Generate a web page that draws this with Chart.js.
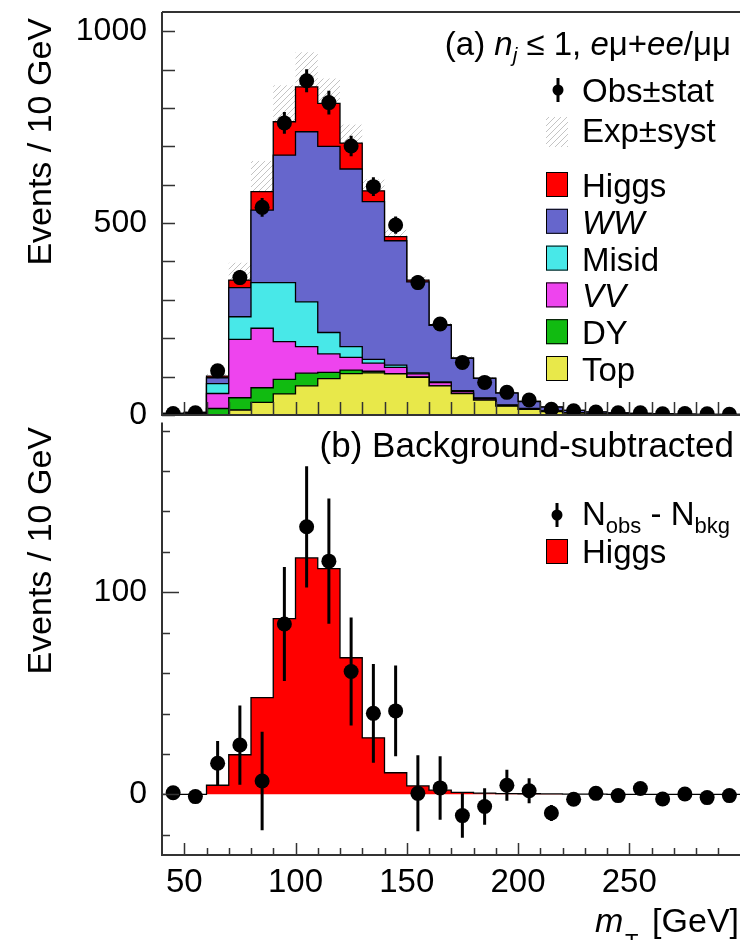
<!DOCTYPE html>
<html>
<head>
<meta charset="utf-8">
<script src="https://cdn.jsdelivr.net/npm/chart.js@4.4.1/dist/chart.umd.min.js"></script>
<style>
  html, body { margin: 0; padding: 0; overflow: hidden; background: #fff; width: 740px; height: 940px; }
  canvas { position: absolute; left: 0; }
  #topChart { top: 0; }
  #bottomChart { top: 415px; }
</style>
</head>
<body>
<canvas id="topChart" width="748" height="440"></canvas>
<canvas id="bottomChart" width="748" height="525"></canvas>
<script>
const FONT = "'Liberation Sans', Arial, Helvetica, sans-serif";

// bin centres, 10 GeV bins from 40 to 300
const binCenters = [45, 55, 65, 75, 85, 95, 105, 115, 125, 135, 145, 155, 165, 175, 185, 195, 205, 215, 225, 235, 245, 255, 265, 275, 285, 295];

// (a) stacked expectation
const topBkg   = [0, 0, 0, 13, 33, 55, 76, 95, 108, 110, 107, 98, 76, 56, 39, 23, 15, 9, 5, 3, 2, 1.5, 1, 0.8, 0.5, 0.4];
const dyBkg    = [1, 2, 17, 32, 38, 38, 33, 16, 9, 4, 1, 1, 0.5, 0.5, 0.3, 0.2, 0.2, 0.1, 0.1, 0, 0, 0, 0, 0, 0, 0];
const vvBkg    = [1, 1, 39, 152, 155, 98, 69, 48, 33, 21, 16, 8, 8, 5, 4, 2, 1.5, 1, 0.8, 0.5, 0.4, 0.3, 0.2, 0.2, 0.1, 0.1];
const misidBkg = [1, 2, 26, 59, 119, 154, 117, 56, 28, 10, 6, 3, 2, 2, 1, 1, 0.5, 0.5, 0.3, 0.2, 0.2, 0.1, 0.1, 0.1, 0.1, 0.1];
const wwBkg    = [1, 2, 15, 76, 189, 332, 443, 485, 463, 411, 324, 237, 147, 84, 51, 31, 18, 10, 6, 4, 3, 2, 2, 1, 1, 1];
const higgsSig = [0, 0, 4.5, 19.6, 47.9, 87, 117, 111.7, 67.6, 28, 10.7, 4.2, 2.1, 1, 0.6, 0.4, 0.3, 0.2, 0.1, 0.1, 0, 0, 0, 0, 0, 0];
const systErr  = [0, 0, 5, 45, 80, 95, 90, 65, 48, 30, 18, 10, 8, 5, 3, 2, 1, 1, 0, 0, 0, 0, 0, 0, 0, 0];
const obsTop   = [4, 6, 115, 358, 541, 761, 871, 814, 701, 595, 495, 345, 237, 137, 85, 59, 39, 15, 11, 8, 6, 6, 3, 4, 3, 2];
const statErr  = [2, 2.5, 11, 19.6, 24.4, 28.2, 30, 31, 26.7, 24.4, 22.5, 18.8, 15.7, 11, 9, 7.7, 6.2, 4, 3.3, 2.8, 2.4, 2.4, 1.7, 2, 1.7, 1.4];

// (b) background subtracted
const obsSub   = [0.8, -1.1, 15.4, 24.4, 6.6, 84.3, 132.4, 115.4, 60.8, 40.1, 41.3, 0.5, 3.2, -10.5, -6, 4.5, 1.8, -9.2, -2.4, 0.5, -0.6, 2.9, -2.3, 0.2, -1.6, -0.6];
const subErr   = [2, 2.5, 11, 19.6, 24.4, 28.2, 30, 31, 26.7, 24.4, 22.5, 18.8, 15.7, 11, 9, 7.7, 6.2, 4, 3.3, 2.8, 2.4, 2.4, 1.7, 2, 1.7, 1.4];

const xTickValues = [50, 100, 150, 200, 250];
const yTicksTop = [0, 500, 1000];
const yTicksBottom = [0, 100];

const stackColors = ['#e8e84a', '#11bb11', '#ee44ee', '#48e8e8', '#6666cc', '#ff0000'];
const legendNames = ['Higgs', 'WW', 'Misid', 'VV', 'DY', 'Top'];
const legendItalic = [false, true, false, true, false, false];

function stepPoints(vals) {
  const pts = vals.map((v, i) => ({ x: binCenters[i] - 5, y: v }));
  pts.push({ x: binCenters[vals.length - 1] + 5, y: vals[vals.length - 1] });
  return pts;
}

const layers = [topBkg, dyBkg, vvBkg, misidBkg, wwBkg, higgsSig];
const cumulative = [];
layers.forEach((layer, k) => {
  cumulative.push(layer.map((v, i) => v + (k ? cumulative[k - 1][i] : 0)));
});
const expTotal = cumulative[cumulative.length - 1];

function hatchPattern(ctx) {
  const c = document.createElement('canvas');
  c.width = 6; c.height = 6;
  const g = c.getContext('2d');
  g.strokeStyle = '#c4c4c4';
  g.lineWidth = 1;
  g.beginPath();
  g.moveTo(0, 6); g.lineTo(6, 0);
  g.moveTo(-1, 1); g.lineTo(1, -1);
  g.moveTo(5, 7); g.lineTo(7, 5);
  g.stroke();
  return ctx.createPattern(c, 'repeat');
}

function clipArea(ctx, a) {
  ctx.beginPath();
  ctx.rect(a.left, a.top, a.right - a.left, a.bottom - a.top);
  ctx.clip();
}

// pieces: [text, font, dy]
function richText(ctx, pieces, x, y, align) {
  let w = 0;
  pieces.forEach(p => { ctx.font = p[1]; w += ctx.measureText(p[0]).width; });
  let cx = align === 'right' ? x - w : x;
  ctx.textAlign = 'left';
  ctx.textBaseline = 'alphabetic';
  pieces.forEach(p => {
    ctx.font = p[1];
    ctx.fillText(p[0], cx, y + (p[2] || 0));
    cx += ctx.measureText(p[0]).width;
  });
}

function yTitle(ctx, x, y) {
  ctx.save();
  ctx.translate(x, y);
  ctx.rotate(-Math.PI / 2);
  ctx.font = '34px ' + FONT;
  ctx.textAlign = 'right';
  ctx.textBaseline = 'alphabetic';
  ctx.fillStyle = '#000';
  ctx.fillText('Events / 10 GeV', 0, 0);
  ctx.restore();
}

function obsMarker(ctx, x, y) {
  ctx.fillStyle = '#000';
  ctx.fillRect(x - 1.5, y - 12, 3, 24);
  ctx.beginPath();
  ctx.arc(x, y, 5.5, 0, Math.PI * 2);
  ctx.fill();
}

function noPadding(s) {
  s.paddingTop = 0; s.paddingBottom = 0;
  s.paddingLeft = 0; s.paddingRight = 0;
}

const hatchBand = {
  id: 'hatchBand',
  beforeDatasetsDraw(chart) {
    const { ctx, chartArea, scales: { x, y } } = chart;
    ctx.save();
    clipArea(ctx, chartArea);
    ctx.fillStyle = hatchPattern(ctx);
    binCenters.forEach((c, i) => {
      if (!systErr[i]) return;
      const x0 = x.getPixelForValue(c - 5), x1 = x.getPixelForValue(c + 5);
      const yt = y.getPixelForValue(expTotal[i] + systErr[i]);
      const yb = y.getPixelForValue(expTotal[i] - systErr[i]);
      ctx.fillRect(x0, yt, x1 - x0, yb - yt);
    });
    ctx.restore();
  }
};

const errorBars = {
  id: 'errorBars',
  afterDatasetsDraw(chart) {
    const { ctx, chartArea, scales: { x, y } } = chart;
    ctx.save();
    clipArea(ctx, chartArea);
    ctx.strokeStyle = '#000';
    ctx.lineWidth = 3;
    chart.data.datasets.forEach(ds => {
      if (!ds.errors) return;
      ds.data.forEach((p, i) => {
        const px = x.getPixelForValue(p.x);
        ctx.beginPath();
        ctx.moveTo(px, y.getPixelForValue(p.y - ds.errors[i]));
        ctx.lineTo(px, y.getPixelForValue(p.y + ds.errors[i]));
        ctx.stroke();
      });
    });
    ctx.restore();
  }
};

const frame = {
  id: 'frame',
  afterDraw(chart, args, o) {
    const { ctx, chartArea: a, scales: { x, y } } = chart;
    ctx.save();
    ctx.strokeStyle = '#333';
    ctx.lineWidth = 1.5;
    ctx.beginPath();
    for (let v = 50; v < 300; v += 10) {
      const px = Math.round(x.getPixelForValue(v)) + 0.5;
      const len = v % 50 === 0 ? o.xMajorLen : o.xMinorLen;
      ctx.moveTo(px, a.bottom);
      ctx.lineTo(px, a.bottom - len);
    }
    for (let v = o.yFrom; v <= o.yTo; v += o.yStep) {
      const py = Math.round(y.getPixelForValue(v)) + 0.5;
      const len = v % o.yMajor === 0 ? o.yMajorLen : o.yMinorLen;
      ctx.moveTo(a.left, py);
      ctx.lineTo(a.left + len, py);
    }
    ctx.stroke();
    ctx.lineWidth = 2;
    ctx.beginPath();
    ctx.moveTo(a.left, a.top);
    ctx.lineTo(a.left, a.bottom);
    ctx.lineTo(a.right, a.bottom);
    if (o.topLine) {
      ctx.moveTo(a.left, a.top);
      ctx.lineTo(a.right, a.top);
    }
    ctx.stroke();
    ctx.restore();
  }
};

const topLabels = {
  id: 'topLabels',
  afterDraw(chart) {
    const ctx = chart.ctx;
    ctx.save();
    ctx.fillStyle = '#000';
    yTitle(ctx, 51, 18);
    const n = '33px ' + FONT, it = 'italic 33px ' + FONT;
    richText(ctx, [
      ['(a) ', n], ['n', it], ['j', 'italic 21px ' + FONT, 7], [' \u2264 1, ', n],
      ['e', it], ['\u03bc', n], ['+', n], ['ee', it], ['/', n], ['\u03bc\u03bc', n]
    ], 731, 55, 'right');

    ctx.font = '33px ' + FONT;
    obsMarker(ctx, 558, 90);
    ctx.fillStyle = '#000';
    ctx.fillText('Obs\u00b1stat', 582, 102);
    ctx.fillStyle = hatchPattern(ctx);
    ctx.fillRect(546, 117, 22, 30);
    ctx.fillStyle = '#000';
    ctx.fillText('Exp\u00b1syst', 582, 142);

    legendNames.forEach((name, i) => {
      const top = 172 + i * 36.8;
      ctx.fillStyle = stackColors[stackColors.length - 1 - i];
      ctx.fillRect(546, top, 22, 25);
      ctx.strokeStyle = '#000';
      ctx.lineWidth = 1;
      ctx.strokeRect(546.5, top + 0.5, 21, 24);
      ctx.fillStyle = '#000';
      ctx.font = (legendItalic[i] ? 'italic ' : '') + '33px ' + FONT;
      ctx.fillText(name, 582, top + 25);
    });
    ctx.restore();
  }
};

const bottomLabels = {
  id: 'bottomLabels',
  afterDraw(chart) {
    const ctx = chart.ctx;
    ctx.save();
    ctx.fillStyle = '#000';
    yTitle(ctx, 51, 12);
    ctx.font = '35px ' + FONT;
    ctx.textAlign = 'right';
    ctx.textBaseline = 'alphabetic';
    ctx.fillText('(b) Background-subtracted', 734, 42);

    obsMarker(ctx, 557, 100);
    ctx.fillStyle = '#000';
    const n = '33px ' + FONT, s = '22px ' + FONT;
    richText(ctx, [['N', n], ['obs', s, 8], [' - ', n], ['N', n], ['bkg', s, 8]], 582, 110, 'left');

    ctx.fillStyle = '#ff0000';
    ctx.fillRect(546, 124, 22, 25);
    ctx.strokeStyle = '#000';
    ctx.lineWidth = 1;
    ctx.strokeRect(546.5, 124.5, 21, 24);
    ctx.fillStyle = '#000';
    ctx.font = n;
    ctx.textAlign = 'left';
    ctx.fillText('Higgs', 582, 148);

    // x axis title
    ctx.font = 'italic 34px ' + FONT;
    ctx.fillText('m', 595, 517);
    ctx.font = '22px ' + FONT;
    ctx.fillText('T', 625, 534);
    ctx.font = '34px ' + FONT;
    ctx.textAlign = 'right';
    ctx.fillText('[GeV]', 739, 517);
    ctx.restore();
  }
};

const tickFont = { family: FONT, size: 32 };

// ---- (a) ----
const topDatasets = [{
  data: binCenters.map((c, i) => ({ x: c, y: obsTop[i] })),
  errors: statErr,
  showLine: false,
  pointRadius: 7.5,
  pointHoverRadius: 7.5,
  pointBackgroundColor: '#000',
  pointBorderWidth: 0,
  clip: 0
}];
for (let k = 0; k < cumulative.length; k++) {
  topDatasets.push({
    data: stepPoints(cumulative[k]),
    stepped: true,
    fill: 'origin',
    backgroundColor: stackColors[k],
    borderColor: '#000',
    borderWidth: 1.3,
    pointRadius: 0
  });
}

new Chart(document.getElementById('topChart'), {
  type: 'line',
  data: { datasets: topDatasets },
  options: {
    responsive: false,
    animation: false,
    layout: { padding: { top: 12, bottom: 25, left: 0, right: 1 } },
    plugins: {
      legend: { display: false },
      tooltip: { enabled: false },
      frame: { xMajorLen: 13, xMinorLen: 13, yFrom: 0, yTo: 1000, yStep: 100, yMajor: 500, yMajorLen: 13, yMinorLen: 13, topLine: true }
    },
    scales: {
      x: { type: 'linear', min: 40, max: 300, display: false },
      y: {
        min: 0, max: 1050,
        grid: { display: false, drawTicks: false },
        border: { display: false },
        ticks: { font: tickFont, color: '#000', padding: 15, callback: v => String(v) },
        afterBuildTicks: s => { s.ticks = yTicksTop.map(v => ({ value: v })); },
        afterFit: s => { s.width = 162; noPadding(s); }
      }
    }
  },
  plugins: [hatchBand, errorBars, frame, topLabels]
});

// ---- (b) ----
new Chart(document.getElementById('bottomChart'), {
  type: 'line',
  data: {
    datasets: [{
      data: binCenters.map((c, i) => ({ x: c, y: obsSub[i] })),
      errors: subErr,
      showLine: false,
      pointRadius: 7.5,
      pointHoverRadius: 7.5,
      pointBackgroundColor: '#000',
      pointBorderWidth: 0,
      clip: 0
    }, {
      data: stepPoints(higgsSig),
      stepped: true,
      fill: 'origin',
      backgroundColor: '#ff0000',
      borderColor: '#000',
      borderWidth: 1.3,
      pointRadius: 0
    }]
  },
  options: {
    responsive: false,
    animation: false,
    layout: { padding: { top: 0, bottom: 0, left: 0, right: 1 } },
    plugins: {
      legend: { display: false },
      tooltip: { enabled: false },
      frame: { xMajorLen: 12, xMinorLen: 7, yFrom: -20, yTo: 180, yStep: 20, yMajor: 100, yMajorLen: 17, yMinorLen: 8, topLine: false }
    },
    scales: {
      x: {
        type: 'linear', min: 40, max: 300,
        grid: { display: false, drawTicks: false },
        border: { display: false },
        ticks: { font: { family: FONT, size: 33 }, color: '#000', padding: 8, maxRotation: 0, autoSkip: false, callback: v => String(v) },
        afterBuildTicks: s => { s.ticks = xTickValues.map(v => ({ value: v })); },
        afterFit: s => { s.height = 85; noPadding(s); }
      },
      y: {
        min: -30, max: 184,
        grid: { display: false, drawTicks: false },
        border: { display: false },
        ticks: { font: tickFont, color: '#000', padding: 15, callback: v => String(v) },
        afterBuildTicks: s => { s.ticks = yTicksBottom.map(v => ({ value: v })); },
        afterFit: s => { s.width = 162; noPadding(s); }
      }
    }
  },
  plugins: [errorBars, frame, bottomLabels]
});
</script>
</body>
</html>
